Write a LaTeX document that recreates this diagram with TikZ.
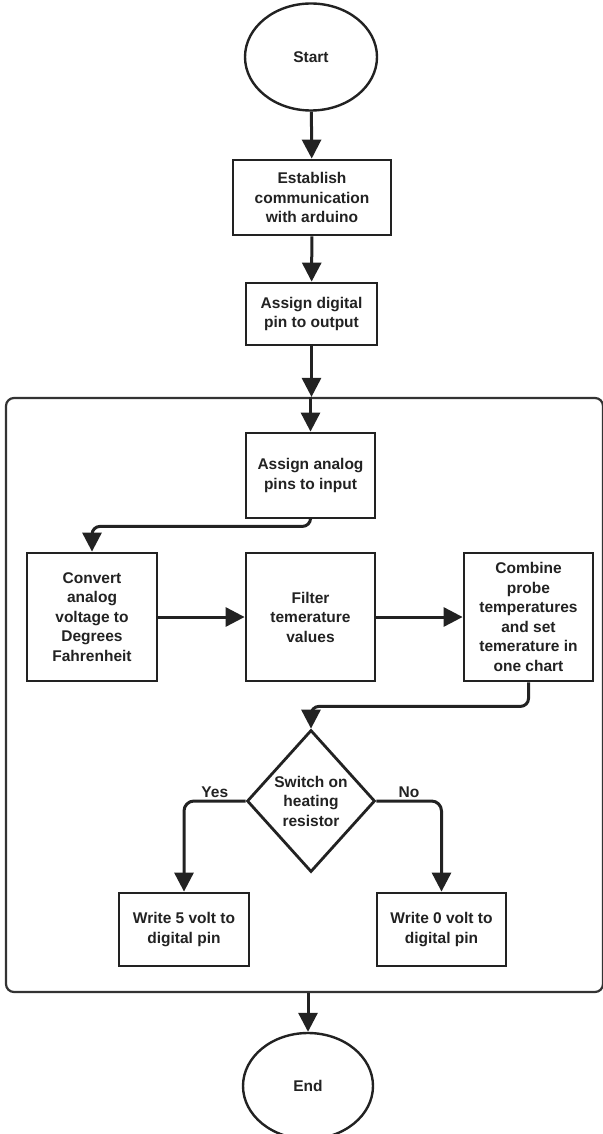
\documentclass[tikz,border=0pt]{standalone}
\usepackage{fontspec}
\setmainfont{Liberation Sans}
\usetikzlibrary{arrows.meta,shapes.geometric}
\definecolor{ln}{HTML}{222222}
\definecolor{frame}{HTML}{333333}
\tikzset{
  txt/.style={font=\bfseries\fontsize{15.5}{19.5}\selectfont, align=center, text=ln},
  box/.style={txt, draw=ln, line width=2.8pt, rectangle, inner sep=0pt},
  term/.style={txt, draw=ln, line width=2.4pt, ellipse, inner sep=0pt},
  decide/.style={txt, draw=ln, line width=2.8pt, diamond, inner sep=0pt},
  arr/.style={draw=ln, line width=3pt, -{Triangle[length=19pt,width=19pt]}},
  lbl/.style={font=\bfseries\fontsize{15.5}{18}\selectfont, text=ln, inner sep=1pt}
}
\begin{document}
\begin{tikzpicture}[x=1pt,y=-1pt]
\useasboundingbox (0,0) rectangle (602,1134);
\fill[white] (0,0) rectangle (602,1134);

\node[term, minimum width=132pt, minimum height=107pt] (start) at (311,57) {Start};
\node[box, minimum width=158pt, minimum height=75pt] (establish) at (312,197.5) {Establish\\communication\\with arduino};
\node[box, minimum width=131pt, minimum height=62pt] (assignd) at (311.5,314) {Assign digital\\pin to output};

\node[draw=frame, line width=2.2pt, rounded corners=8pt, rectangle, minimum width=597pt, minimum height=594pt, inner sep=0pt] (loop) at (304.5,695) {};

\node[box, minimum width=129pt, minimum height=85pt] (assigna) at (310.5,475.5) {Assign analog\\pins to input};
\node[box, minimum width=130pt, minimum height=128pt] (convert) at (92,617) {Convert\\analog\\voltage to\\Degrees\\Fahrenheit};
\node[box, minimum width=129pt, minimum height=128pt] (filter) at (310.5,617) {Filter\\temerature\\values};
\node[box, minimum width=129pt, minimum height=128pt] (combine) at (528.5,617) {Combine\\probe\\temperatures\\and set\\temerature in\\one chart};
\node[decide, minimum width=128pt, minimum height=142pt] (decision) at (311,801) {Switch on\\heating\\resistor};
\node[box, minimum width=130pt, minimum height=73pt] (write5) at (184,929.5) {Write 5 volt to\\digital pin};
\node[box, minimum width=129pt, minimum height=73pt] (write0) at (441.5,929.5) {Write 0 volt to\\digital pin};
\node[term, minimum width=130pt, minimum height=106pt] (end) at (308,1086) {End};

\draw[arr] (start) -- (establish);
\draw[arr] (establish) -- (assignd);
\draw[arr] (assignd.south) -- (assignd.south |- loop.north);
\draw[arr] (loop.north -| assigna.north) -- (assigna.north);
\draw[arr, rounded corners=8pt] (assigna.south) -- ++(0,7) -| (convert.north);
\draw[arr] (convert.east) -- (filter.west);
\draw[arr] (filter.east) -- (combine.west);
\draw[arr, rounded corners=8pt] (combine.south) -- ++(0,24) -| (decision.north);
\draw[arr, rounded corners=10pt] (decision.west) -| (write5.north)
  node[lbl, pos=0.25, above=1pt] {Yes};
\draw[arr, rounded corners=10pt] (decision.east) -| (write0.north)
  node[lbl, pos=0.25, above=1pt] {No};
\draw[arr] (loop.south -| end.north) -- (end.north);
\end{tikzpicture}
\end{document}
